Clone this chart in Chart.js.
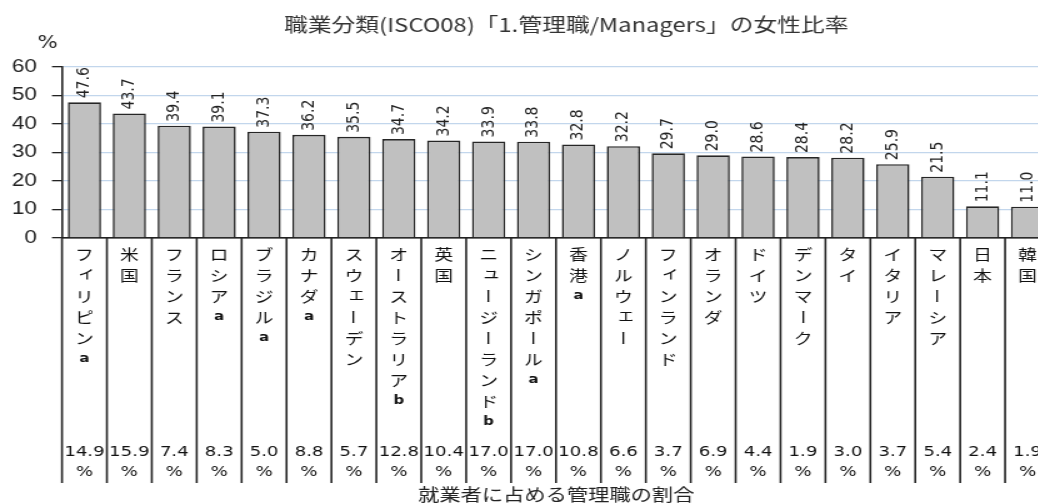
<!DOCTYPE html>
<html lang="ja">
<head>
  <meta charset="UTF-8" />
  <title>管理職の女性比率</title>
  <script src="https://cdn.jsdelivr.net/npm/chart.js"></script>
  <style>
    html, body { margin: 0; padding: 0; background: #fff; overflow: hidden; }
    /* the source image is stretched sideways, so the whole chart is too */
    #wrap { width: 848px; height: 503px; transform: scaleX(1.25); transform-origin: 0 0; }
  </style>
</head>
<body>
  <div id="wrap"><canvas id="managersChart" width="848" height="503"></canvas></div>

  <script>
    // 国・地域名
    const countries = ['フィリピンa', '米国', 'フランス', 'ロシアa', 'ブラジルa', 'カナダa', 'スウェーデン',
      'オーストラリアb', '英国', 'ニュージーランドb', 'シンガポールa', '香港a', 'ノルウェー', 'フィンランド',
      'オランダ', 'ドイツ', 'デンマーク', 'タイ', 'イタリア', 'マレーシア', '日本', '韓国'];
    // 管理職の女性比率 (%)
    const femaleShare = [47.6, 43.7, 39.4, 39.1, 37.3, 36.2, 35.5, 34.7, 34.2, 33.9, 33.8,
      32.8, 32.2, 29.7, 29.0, 28.6, 28.4, 28.2, 25.9, 21.5, 11.1, 11.0];
    // 就業者に占める管理職の割合 (%)
    const managerShare = [14.9, 15.9, 7.4, 8.3, 5.0, 8.8, 5.7, 12.8, 10.4, 17.0, 17.0,
      10.8, 6.6, 3.7, 6.9, 4.4, 1.9, 3.0, 3.7, 5.4, 2.4, 1.9];
    const yMax = 60;
    const yStep = 10;

    const titleText = '職業分類(ISCO08)「1.管理職/Managers」の女性比率';
    const captionText = '就業者に占める管理職の割合';
    const jpFont = '"Noto Sans CJK JP", sans-serif';
    const numFont = '"DejaVu Sans", sans-serif';
    const ink = '#222';

    // 棒の上の数値（縦書き）
    const valueLabels = {
      id: 'valueLabels',
      afterDatasetsDraw(chart) {
        const ctx = chart.ctx;
        const meta = chart.getDatasetMeta(0);
        ctx.save();
        ctx.fillStyle = ink;
        ctx.font = '14px ' + numFont;
        meta.data.forEach((bar, i) => {
          ctx.save();
          ctx.translate(bar.x, bar.y - 4);
          ctx.rotate(-Math.PI / 2);
          ctx.textAlign = 'left';
          ctx.textBaseline = 'middle';
          ctx.fillText(femaleShare[i].toFixed(1), 0, 0);
          ctx.restore();
        });
        ctx.restore();
      }
    };

    // 下の表（国名・割合・区切り線）とタイトル類
    const tablePlugin = {
      id: 'table',
      afterDraw(chart) {
        const { ctx, chartArea } = chart;
        const x = chart.scales.x;
        const n = countries.length;
        const step = x.getPixelForValue(1) - x.getPixelForValue(0);
        const tableBottom = 483;
        ctx.save();

        ctx.strokeStyle = ink;
        ctx.lineWidth = 1.6;
        for (let i = 0; i <= n; i++) {
          const px = x.getPixelForValue(i) - step / 2;
          ctx.beginPath();
          ctx.moveTo(px, chartArea.bottom);
          ctx.lineTo(px, tableBottom);
          ctx.stroke();
        }

        ctx.fillStyle = '#111';
        ctx.textAlign = 'center';
        ctx.textBaseline = 'middle';
        countries.forEach((name, i) => {
          const cx = x.getPixelForValue(i);
          [...name].forEach((ch, k) => {
            const cy = chartArea.bottom + 16 + k * 21;
            if (ch === 'ー') {
              ctx.font = '15px ' + jpFont;
              ctx.save();
              ctx.translate(cx, cy);
              ctx.rotate(Math.PI / 2);
              ctx.fillText(ch, 0, 0);
              ctx.restore();
            } else if ('ィェュッ'.includes(ch)) {
              ctx.font = '15px ' + jpFont;
              ctx.fillText(ch, cx + 2, cy - 3);
            } else if (ch === 'a' || ch === 'b') {
              ctx.font = 'bold 12px ' + numFont;
              ctx.fillText(ch, cx, cy);
            } else {
              ctx.font = '15px ' + jpFont;
              ctx.fillText(ch, cx, cy);
            }
          });
          ctx.font = '14.5px ' + numFont;
          ctx.fillText(managerShare[i].toFixed(1), cx, 452);
          ctx.fillText('%', cx, 472);
        });

        ctx.font = '19px ' + jpFont;
        ctx.fillStyle = '#333';
        ctx.fillText(titleText, 453, 25);
        ctx.fillStyle = ink;
        ctx.font = '17px ' + jpFont;
        ctx.fillText(captionText, 445, 495);

        ctx.font = '17px ' + numFont;
        ctx.fillText('%', 38, 44);
        ctx.restore();
      }
    };

    new Chart(document.getElementById('managersChart'), {
      type: 'bar',
      data: {
        labels: countries,
        datasets: [{
          label: '女性比率',
          data: femaleShare,
          backgroundColor: '#c0c0c0',
          borderColor: '#262626',
          borderWidth: 1.6,
          barPercentage: 0.74,
          categoryPercentage: 1
        }]
      },
      options: {
        responsive: false,
        devicePixelRatio: 1,
        animation: false,
        layout: { padding: { top: 67, right: 8, left: 0, bottom: 0 } },
        plugins: {
          legend: { display: false },
          title: { display: false },
          tooltip: { enabled: false }
        },
        scales: {
          x: {
            ticks: { display: false },
            grid: { display: false },
            border: { display: true, color: ink, width: 1.6 },
            afterFit(scale) { scale.height = 265; }
          },
          y: {
            min: 0,
            max: yMax,
            ticks: {
              stepSize: yStep,
              padding: 12,
              color: ink,
              font: { family: '"Liberation Sans", Arial, sans-serif', size: 18 }
            },
            grid: {
              color: ctx => (ctx.tick && ctx.tick.value === 0) ? ink : '#c2d6ec',
              lineWidth: 1.3,
              tickColor: ink,
              tickLength: 8
            },
            border: { display: true, color: ink, width: 1.6 },
            afterFit(scale) { scale.width = 49.6; }
          }
        }
      },
      plugins: [valueLabels, tablePlugin]
    });
  </script>
</body>
</html>
